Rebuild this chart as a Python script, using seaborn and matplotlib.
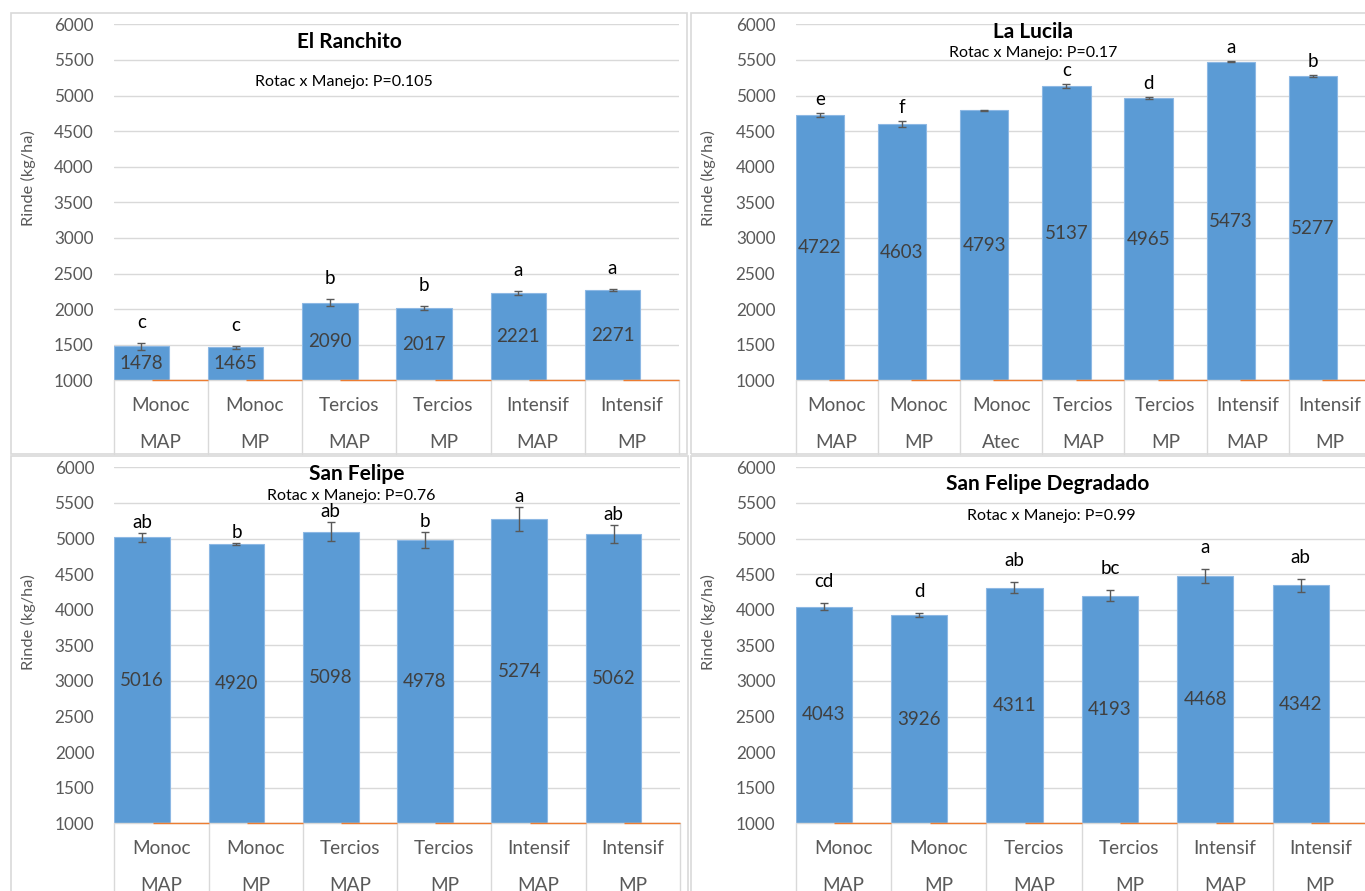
import numpy as np
import pandas as pd
import matplotlib
matplotlib.use("Agg")
import matplotlib.pyplot as plt
from matplotlib.patches import Rectangle
import seaborn as sns

# Tratamientos: rotación y manejo
ROT_6 = ["Monoc", "Monoc", "Tercios", "Tercios", "Intensif", "Intensif"]
MAN_6 = ["MAP", "MP", "MAP", "MP", "MAP", "MP"]
ROT_7 = ["Monoc", "Monoc", "Monoc", "Tercios", "Tercios", "Intensif", "Intensif"]
MAN_7 = ["MAP", "MP", "Atec", "MAP", "MP", "MAP", "MP"]

# Rinde medio (kg/ha), error estándar y letras de comparación por sitio
ranchito_rinde = [1478, 1465, 2090, 2017, 2221, 2271]
ranchito_ee = [50, 20, 50, 32, 28, 10]
ranchito_letras = ["c", "c", "b", "b", "a", "a"]

lucila_rinde = [4722, 4603, 4793, 5137, 4965, 5473, 5277]
lucila_ee = [30, 40, 4, 30, 10, 5, 13]
lucila_letras = ["e", "f", "", "c", "d", "a", "b"]

felipe_rinde = [5016, 4920, 5098, 4978, 5274, 5062]
felipe_ee = [60, 10, 130, 115, 175, 130]
felipe_letras = ["ab", "b", "ab", "b", "a", "ab"]

degradado_rinde = [4043, 3926, 4311, 4193, 4468, 4342]
degradado_ee = [45, 33, 82, 77, 98, 89]
degradado_letras = ["cd", "d", "ab", "bc", "a", "ab"]

titulos = ["El Ranchito", "La Lucila", "San Felipe", "San Felipe Degradado"]
interaccion = ["Rotac x Manejo: P=0.105", "Rotac x Manejo: P=0.17",
               "Rotac x Manejo: P=0.76", "Rotac x Manejo: P=0.99"]
y_ticks = [1000, 1500, 2000, 2500, 3000, 3500, 4000, 4500, 5000, 5500, 6000]
y_label = "Rinde (kg/ha)"

sns.set_theme(style="white")
plt.rcParams["font.family"] = ["Lato", "DejaVu Sans"]

BLUE = "#5b9bd5"
ORANGE = "#ed7d31"
GRID = "#d9d9d9"
GRAY_TXT = "#595959"
VAL_TXT = "#404040"

W, H = 1365, 891
fig = plt.figure(figsize=(W / 100, H / 100), dpi=100)
fig.patch.set_facecolor("white")


def fx(px):
    return px / W


def fy(py):
    return 1 - py / H


BAR_W = 0.59
HALF = BAR_W / 2

# layout of each chart in pixels: plot box (l, t, r, b), frame box, text anchors
layouts = [
    dict(plot=(113.5, 24.3, 679.0, 380.3), frame=(10.7, 12.7, 687.3, 454.0),
         title=(349, 41.7), sub=(344, 81.7), ylab=(28, 178), pad=15),
    dict(plot=(795.5, 24.3, 1371.0, 380.3), frame=(690.7, 12.7, 1380, 454.0),
         title=(1033, 31.7), sub=(1033, 52.7), ylab=(708, 178), pad=8),
    dict(plot=(114.4, 467.3, 680.0, 823.3), frame=(11.0, 456.0, 687.5, 905),
         title=(357, 474), sub=(351, 495.7), ylab=(28.6, 622.5), pad=5),
    dict(plot=(795.5, 467.3, 1368.0, 823.3), frame=(691.0, 456.0, 1380, 905),
         title=(1048, 484.3), sub=(1051, 515.7), ylab=(708, 622.5), pad=16),
]

datasets = [
    (ROT_6, MAN_6, ranchito_rinde, ranchito_ee, ranchito_letras),
    (ROT_7, MAN_7, lucila_rinde, lucila_ee, lucila_letras),
    (ROT_6, MAN_6, felipe_rinde, felipe_ee, felipe_letras),
    (ROT_6, MAN_6, degradado_rinde, degradado_ee, degradado_letras),
]

for k, ((rot, man, rinde, ee, letras), lay) in enumerate(zip(datasets, layouts)):
    l, t, r, b = lay["plot"]
    ax = fig.add_axes([fx(l), fy(b), fx(r) - fx(l), (b - t) / H])
    n = len(rinde)
    ymin = y_ticks[0]

    df = pd.DataFrame({"tratamiento": [f"{a} {m}" for a, m in zip(rot, man)],
                       "rinde": rinde})
    sns.barplot(data=df, x="tratamiento", y="rinde", color=BLUE, saturation=1,
                width=BAR_W, errorbar=None, edgecolor="#8db8e4", linewidth=0.8,
                ax=ax, zorder=2)
    ax.errorbar(np.arange(n), rinde, yerr=ee, fmt="none", ecolor=GRAY_TXT,
                elinewidth=1.0, capsize=3.2, capthick=1.0, zorder=4)

    ax.set_ylim(ymin, y_ticks[-1])
    ax.set_xlim(-HALF, n - HALF)
    ax.set_yticks(y_ticks)
    ax.set_xticks([])
    ax.set_xlabel("")
    ax.set_ylabel("")
    ax.tick_params(axis="y", length=0, pad=14.5, labelsize=12.3, labelcolor=GRAY_TXT)
    ax.yaxis.grid(True, color=GRID, lw=1.0)
    ax.set_axisbelow(True)
    for s in ax.spines.values():
        s.set_visible(False)
    ax.set_facecolor("none")

    # category axis line and the flat second series
    ax.axhline(ymin, color=GRID, lw=1.0, zorder=3, clip_on=False)
    ax.hlines([ymin] * n, np.arange(n) + 0.111, np.arange(n) + 1 - HALF,
              color=ORANGE, lw=1.0, zorder=3, clip_on=False)

    # category table below the axis
    depth = (lay["frame"][3] - b) / (b - t)
    xt = ax.get_xaxis_transform()
    for j in range(n + 1):
        ax.plot([j - HALF, j - HALF], [0, -depth], transform=xt, color=GRID,
                lw=1.0, clip_on=False, zorder=1)
    for j in range(n):
        cx = j + 0.5 - HALF
        ax.annotate(rot[j], xy=(cx, 0), xycoords=xt, xytext=(0, -25 * 0.72),
                    textcoords="offset points", ha="center", va="center",
                    fontsize=13.7, color=GRAY_TXT, annotation_clip=False)
        ax.annotate(man[j], xy=(cx, 0), xycoords=xt, xytext=(0, -62 * 0.72),
                    textcoords="offset points", ha="center", va="center",
                    fontsize=13.7, color=GRAY_TXT, annotation_clip=False)

    # values inside bars and significance letters above
    for j, (v, e, let) in enumerate(zip(rinde, ee, letras)):
        ax.text(j, (ymin + v) / 2, f"{v}", ha="center", va="center",
                fontsize=13.5, color=VAL_TXT, zorder=5)
        if let:
            ax.annotate(let, xy=(j, v + e), xytext=(0, lay["pad"] * 0.72),
                        textcoords="offset points", ha="center", va="baseline",
                        fontsize=13.5, color="black", annotation_clip=False)

    fig.text(fx(lay["title"][0]), fy(lay["title"][1]), titulos[k], ha="center",
             va="center", fontsize=15, fontweight="bold", color="black")
    fig.text(fx(lay["sub"][0]), fy(lay["sub"][1]), interaccion[k], ha="center",
             va="center", fontsize=11.5, color="black")
    fig.text(fx(lay["ylab"][0]), fy(lay["ylab"][1]), y_label, rotation=90,
             ha="center", va="center", fontsize=11.8, color=GRAY_TXT)

    fl, ft, fr, fb = lay["frame"]
    fig.add_artist(Rectangle((fx(fl), fy(fb)), fx(fr) - fx(fl), (fb - ft) / H,
                             transform=fig.transFigure, fill=False,
                             edgecolor=GRID, lw=1.2))

fig.savefig("out.png", dpi=100, facecolor="white")
